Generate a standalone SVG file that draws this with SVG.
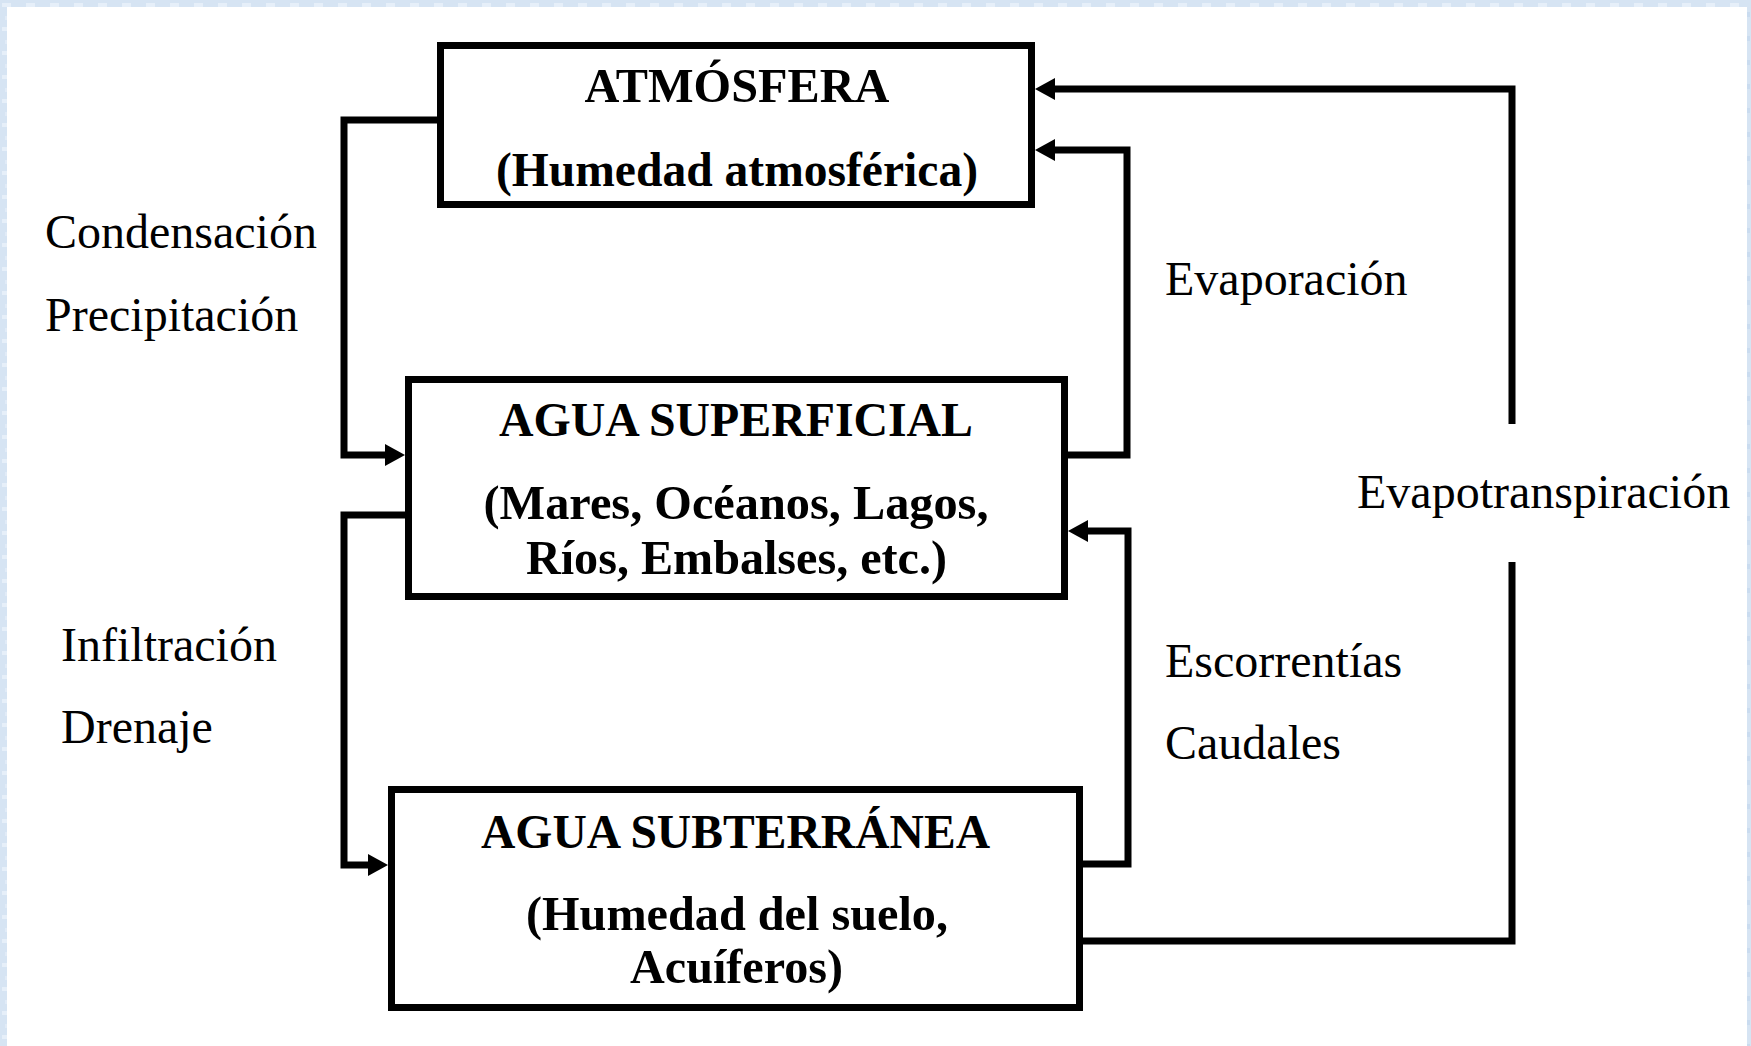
<svg xmlns="http://www.w3.org/2000/svg" width="1751" height="1046" viewBox="0 0 1751 1046">
  <defs>
    <marker id="arrow" markerUnits="userSpaceOnUse" markerWidth="22" markerHeight="24" refX="0" refY="12" orient="auto" viewBox="0 0 22 24">
      <path d="M0,1 L20,12 L0,23 Z" fill="#000"/>
    </marker>
    <pattern id="tex" width="24" height="24" patternUnits="userSpaceOnUse">
      <rect width="24" height="24" fill="#d6e4f3"/>
      <rect x="2" y="3" width="9" height="4" fill="#e6eff9"/>
      <rect x="14" y="12" width="8" height="5" fill="#c9dbef"/>
      <rect x="5" y="16" width="6" height="4" fill="#e1ebf7"/>
    </pattern>
  </defs>
  <style>
    .box { fill: #ffffff; stroke: #000000; stroke-width: 7; }
    .conn { fill: none; stroke: #000000; stroke-width: 7; stroke-linejoin: miter; stroke-linecap: butt; }
    .title { font-family: "Liberation Serif", "Times New Roman", serif; font-weight: bold; font-size: 48px; fill: #000; text-anchor: middle; }
    .label { font-family: "Liberation Serif", "Times New Roman", serif; font-size: 48px; fill: #000; }
  </style>

  <rect x="0" y="0" width="1751" height="1046" fill="url(#tex)"/>
  <rect x="7" y="7" width="1740" height="1039" fill="#ffffff"/>

  <g id="connectors">
    <polyline class="conn" points="437,120 344,120 344,455 385,455" marker-end="url(#arrow)"/>
    <polyline class="conn" points="405,515 344,515 344,865 368,865" marker-end="url(#arrow)"/>
    <polyline class="conn" points="1068,455 1127,455 1127,150 1055,150" marker-end="url(#arrow)"/>
    <polyline class="conn" points="1083,864 1128,864 1128,531 1088,531" marker-end="url(#arrow)"/>
    <polyline class="conn" points="1512,424 1512,89 1055,89" marker-end="url(#arrow)"/>
    <polyline class="conn" points="1083,941 1512,941 1512,562"/>
  </g>

  <g id="atmosfera">
    <rect class="box" x="440.5" y="45.5" width="591" height="159"/>
    <text class="title" x="737" y="102" textLength="305" lengthAdjust="spacingAndGlyphs">ATMÓSFERA</text>
    <text class="title" x="737" y="186" textLength="482" lengthAdjust="spacingAndGlyphs">(Humedad atmosférica)</text>
  </g>

  <g id="agua-superficial">
    <rect class="box" x="408.5" y="379.5" width="656" height="217"/>
    <text class="title" x="736" y="436" textLength="474" lengthAdjust="spacingAndGlyphs">AGUA SUPERFICIAL</text>
    <text class="title" x="736" y="519" textLength="505" lengthAdjust="spacingAndGlyphs">(Mares, Océanos, Lagos,</text>
    <text class="title" x="736.5" y="574" textLength="421" lengthAdjust="spacingAndGlyphs">Ríos, Embalses, etc.)</text>
  </g>

  <g id="agua-subterranea">
    <rect class="box" x="391.5" y="789.5" width="688" height="218"/>
    <text class="title" x="735.5" y="848" textLength="509" lengthAdjust="spacingAndGlyphs">AGUA SUBTERRÁNEA</text>
    <text class="title" x="737" y="930" textLength="422" lengthAdjust="spacingAndGlyphs">(Humedad del suelo,</text>
    <text class="title" x="736.5" y="983" textLength="213" lengthAdjust="spacingAndGlyphs">Acuíferos)</text>
  </g>

  <g id="labels">
    <text class="label" x="45" y="248">Condensación</text>
    <text class="label" x="45" y="331">Precipitación</text>
    <text class="label" x="61" y="661">Infiltración</text>
    <text class="label" x="61" y="743">Drenaje</text>
    <text class="label" x="1165" y="295">Evaporación</text>
    <text class="label" x="1357" y="508">Evapotranspiración</text>
    <text class="label" x="1165" y="677">Escorrentías</text>
    <text class="label" x="1165" y="759">Caudales</text>
  </g>
</svg>
